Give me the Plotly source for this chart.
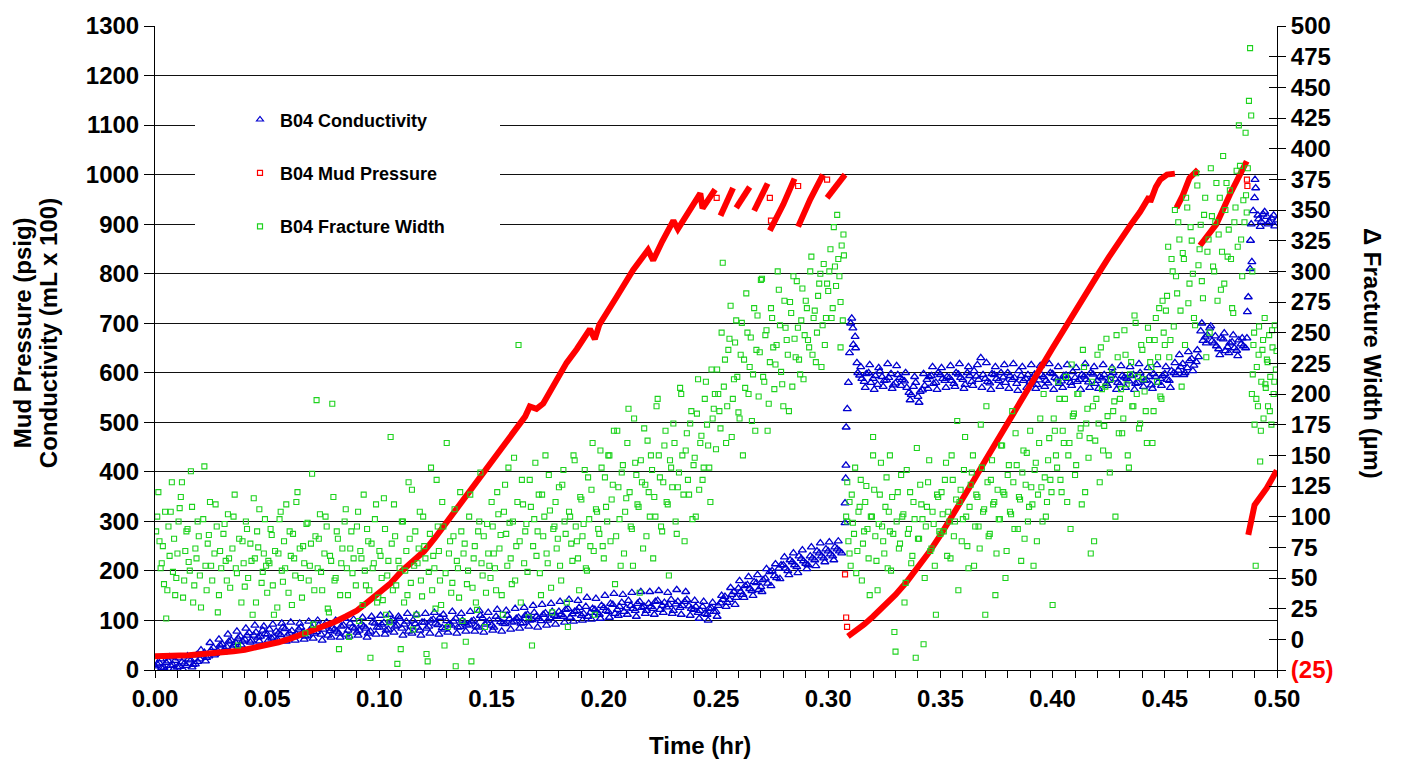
import plotly.graph_objects as go

# ---------------- DATA ----------------
# B04 Mud Pressure (psig) - left axis; None marks a break between sawtooth segments
mud_t = [0.000, 0.005, 0.010, 0.015, 0.020, 0.025, 0.030, 0.035, 0.040, 0.045,
         0.050, 0.055, 0.060, 0.065, 0.070, 0.075, 0.080, 0.085, 0.090, 0.095,
         0.100, 0.105, 0.110, 0.115, 0.120, 0.125, 0.130, 0.135, 0.140, 0.145,
         0.150, 0.155, 0.160, 0.165, 0.167, 0.170, 0.173, 0.176, 0.179, 0.1834,
         0.188, 0.1938, 0.196, 0.198, 0.2057, 0.213, 0.2197, 0.222, 0.226, 0.231,
         0.233, 0.238, 0.243, 0.244, 0.2496, None, 0.252, 0.2576, None, 0.259,
         0.265, None, 0.267, 0.273, None, 0.274, 0.280, 0.285, None, 0.2866,
         0.292, 0.2977, None, 0.2995, 0.303, 0.3075, None,
         0.3088, 0.312, 0.316, 0.320, 0.325, 0.330, 0.335, 0.340, 0.345, 0.350,
         0.355, 0.360, 0.365, 0.370, 0.375, 0.380, 0.385, 0.390, 0.395, 0.400,
         0.405, 0.410, 0.415, 0.420, 0.425, 0.430, 0.435, 0.439, 0.441, 0.443,
         0.4435, 0.446, 0.448, 0.451, 0.4545, None, 0.4552, 0.458, 0.461, 0.4648,
         None, 0.4657, 0.473, 0.479, 0.4835, 0.4865, None, 0.4872, 0.4887, 0.490,
         0.4954, 0.4999]
mud_p = [28, 28, 29, 30, 32, 33, 35, 38, 41, 45,
         50, 56, 63, 71, 80, 88, 97, 108, 120, 138,
         158, 175, 200, 220, 240, 268, 298, 328, 358, 388,
         418, 448, 478, 512, 532, 527, 538, 562, 585, 620,
         648, 688, 668, 697, 753, 807, 848, 827, 865, 907,
         890, 925, 962, 932, 970, None, 917, 973, None, 933,
         975, None, 927, 982, None, 887, 940, 992, None, 895,
         950, 1000, None, 953, 975, 1000, None,
         68, 78, 92, 108, 128, 152, 178, 206, 238, 272,
         308, 346, 384, 423, 462, 500, 538, 575, 612, 650,
         688, 724, 760, 797, 833, 868, 900, 925, 940, 955,
         945, 975, 990, 1000, 1002, None, 933, 958, 993, 1010,
         None, 857, 900, 960, 1000, 1027, None, 273, 313, 333,
         367, 403]
mud_out_t = [0.2503, 0.274, 0.2745, 0.2866, 0.2995, 0.3075, 0.308, 0.3084, 0.4866, 0.4868]
mud_out_p = [953, 953, 907, 977, 990, 193, 106, 87, 990, 977]

# B04 Conductivity (mL x 100) - left axis, first set of samples
cond_t = [0.000, 0.002, 0.004, 0.006, 0.008, 0.010, 0.012, 0.014, 0.016, 0.018,
          0.020, 0.022, 0.024, 0.026, 0.028, 0.030, 0.032, 0.034, 0.036, 0.038,
          0.040, 0.042, 0.044, 0.046, 0.048, 0.050, 0.052, 0.054, 0.056, 0.058,
          0.060, 0.062, 0.064, 0.066, 0.068, 0.070, 0.072, 0.074, 0.076, 0.078,
          0.080, 0.082, 0.084, 0.086, 0.088, 0.090, 0.092, 0.094, 0.096, 0.098,
          0.100, 0.102, 0.104, 0.106, 0.108, 0.110, 0.112, 0.114, 0.116, 0.118,
          0.120, 0.122, 0.124, 0.126, 0.128, 0.130, 0.132, 0.134, 0.136, 0.138,
          0.140, 0.142, 0.144, 0.146, 0.148, 0.150, 0.152, 0.154, 0.156, 0.158,
          0.160, 0.162, 0.164, 0.166, 0.168, 0.170, 0.172, 0.174, 0.176, 0.178,
          0.180, 0.182, 0.184, 0.186, 0.188, 0.190, 0.192, 0.194, 0.196, 0.198,
          0.200, 0.202, 0.204, 0.206, 0.208, 0.210, 0.212, 0.214, 0.216, 0.218,
          0.220, 0.222, 0.224, 0.226, 0.228, 0.230, 0.232, 0.234, 0.236, 0.238,
          0.240, 0.242, 0.244, 0.246, 0.248, 0.250, 0.252, 0.254, 0.256, 0.258,
          0.260, 0.262, 0.264, 0.266, 0.268, 0.270, 0.272, 0.274, 0.276, 0.278,
          0.280, 0.282, 0.284, 0.286, 0.288, 0.290, 0.292, 0.294, 0.296, 0.298,
          0.300, 0.302, 0.304, 0.306,
          0.3075, 0.3075, 0.3078, 0.3079, 0.3080, 0.3085, 0.3090, 0.3095, 0.3100, 0.3105,
          0.3110, 0.3112, 0.3120, 0.3122, 0.3128, 0.3132,
          0.314, 0.316, 0.318, 0.320, 0.322, 0.324, 0.326, 0.328, 0.330, 0.332,
          0.334, 0.336, 0.338, 0.340, 0.342, 0.344, 0.346, 0.348, 0.350, 0.352,
          0.354, 0.356, 0.358, 0.360, 0.362, 0.364, 0.366, 0.368, 0.370, 0.372,
          0.374, 0.376, 0.378, 0.380, 0.382, 0.384, 0.386, 0.388, 0.390, 0.392,
          0.394, 0.396, 0.398, 0.400, 0.402, 0.404, 0.406, 0.408, 0.410, 0.412,
          0.414, 0.416, 0.418, 0.420, 0.422, 0.424, 0.426, 0.428, 0.430, 0.432,
          0.434, 0.436, 0.438, 0.440, 0.442, 0.444, 0.446, 0.448, 0.450, 0.452, 0.454,
          0.456, 0.458, 0.460, 0.462, 0.464,
          0.466, 0.467, 0.468, 0.470,
          0.472, 0.474, 0.476, 0.478, 0.480, 0.482, 0.484, 0.486,
          0.4866, 0.4868, 0.4872, 0.4880, 0.4882, 0.4885, 0.4888, 0.4894, 0.4900, 0.4902, 0.4905,
          0.4915, 0.4925, 0.4930, 0.4945, 0.4955, 0.4960, 0.4975, 0.4990, 0.5000]
cond_v = [8, 14, 5, 18, 10, 6, 16, 9, 20, 12,
          22, 35, 28, 45, 38, 52, 47, 60, 55, 68,
          62, 75, 70, 66, 80, 72, 64, 78, 71, 83,
          74, 68, 82, 76, 70, 85, 77, 72, 88, 79,
          82, 74, 90, 80, 86, 76, 92, 84, 78, 94,
          86, 95, 82, 100, 90, 84, 98, 88, 93, 80,
          96, 88, 102, 91, 85, 99, 90, 104, 87, 95,
          92, 100, 86, 105, 95, 90, 108, 97, 93, 103,
          98, 106, 95, 112, 101, 108, 99, 115, 105, 110,
          118, 108, 124, 113, 120, 110, 128, 116, 122, 112,
          126, 118, 132, 122, 136, 125, 130, 120, 138, 128,
          134, 124, 140, 130, 127, 142, 133, 126, 138, 129,
          122, 116, 128, 112, 125, 118, 135, 148, 142, 158,
          165, 152, 172, 160, 176, 168, 185, 198, 190, 205,
          212, 200, 218, 208, 225, 215, 230, 222, 236, 226,
          240, 230, 244, 236,
          297, 337, 387, 413, 490, 527, 580, 640, 700, 710,
          690, 657, 673, 650, 620, 600,
          595, 582, 600, 588, 576, 592, 585, 598, 579, 590,
          583, 560, 572, 552, 565, 586, 594, 580, 596, 584,
          590, 578, 597, 586, 600, 582, 593, 630, 588, 579,
          596, 584, 591, 600, 586, 578, 594, 588, 582, 597,
          585, 592, 579, 598, 587, 583, 595, 580, 590, 586,
          593, 581, 597, 584, 589, 578, 594, 587, 576, 591,
          583, 596, 580, 590, 585, 575, 592, 588, 598, 584, 600,
          605, 618, 610, 628, 622,
          684, 665, 672, 690,
          660, 648, 668, 652, 662, 645, 658, 650,
          670, 723, 753, 810, 867, 900, 824, 927, 953, 990, 973,
          918, 895, 905, 925, 915, 900, 912, 896, 908]

# B04 Conductivity - second set of samples
cond2_t = [0.001, 0.003, 0.005, 0.007, 0.009, 0.011, 0.013, 0.015, 0.017, 0.019,
           0.021, 0.023, 0.025, 0.027, 0.029, 0.031, 0.033, 0.035, 0.037, 0.039,
           0.041, 0.043, 0.045, 0.047, 0.049, 0.051, 0.053, 0.055, 0.057, 0.059,
           0.061, 0.063, 0.065, 0.067, 0.069, 0.071, 0.073, 0.075, 0.077, 0.079,
           0.081, 0.083, 0.085, 0.087, 0.089, 0.091, 0.093, 0.095, 0.097, 0.099,
           0.101, 0.103, 0.105, 0.107, 0.109, 0.111, 0.113, 0.115, 0.117, 0.119,
           0.121, 0.123, 0.125, 0.127, 0.129, 0.131, 0.133, 0.135, 0.137, 0.139,
           0.141, 0.143, 0.145, 0.147, 0.149, 0.151, 0.153, 0.155, 0.157, 0.159,
           0.161, 0.163, 0.165, 0.167, 0.169, 0.171, 0.173, 0.175, 0.177, 0.179,
           0.181, 0.183, 0.185, 0.187, 0.189, 0.191, 0.193, 0.195, 0.197, 0.199,
           0.201, 0.203, 0.205, 0.207, 0.209, 0.211, 0.213, 0.215, 0.217, 0.219,
           0.221, 0.223, 0.225, 0.227, 0.229, 0.231, 0.233, 0.235, 0.237, 0.239,
           0.241, 0.243, 0.245, 0.247, 0.249, 0.251, 0.253, 0.255, 0.257, 0.259,
           0.261, 0.263, 0.265, 0.267, 0.269, 0.271, 0.273, 0.275, 0.277, 0.279,
           0.281, 0.283, 0.285, 0.287, 0.289, 0.291, 0.293, 0.295, 0.297, 0.299,
           0.301, 0.303, 0.305,
           0.315, 0.317, 0.319, 0.321, 0.323, 0.325, 0.327, 0.329, 0.331, 0.333,
           0.335, 0.337, 0.339, 0.341, 0.343, 0.345, 0.347, 0.349, 0.351, 0.353,
           0.355, 0.357, 0.359, 0.361, 0.363, 0.365, 0.367, 0.369, 0.371, 0.373,
           0.375, 0.377, 0.379, 0.381, 0.383, 0.385, 0.387, 0.389, 0.391, 0.393,
           0.395, 0.397, 0.399, 0.401, 0.403, 0.405, 0.407, 0.409, 0.411, 0.413,
           0.415, 0.417, 0.419, 0.421, 0.423, 0.425, 0.427, 0.429, 0.431, 0.433,
           0.435, 0.437, 0.439, 0.441, 0.443, 0.445, 0.447, 0.449, 0.451, 0.453, 0.455,
           0.457, 0.459, 0.461, 0.463, 0.465,
           0.469, 0.471,
           0.473, 0.475, 0.477, 0.479, 0.481, 0.483, 0.485,
           0.4918, 0.4938, 0.4965, 0.4985]
cond2_v = [12, 4, 15, 9, 19, 7, 13, 22, 11, 17,
           30, 25, 40, 33, 50, 42, 58, 50, 64, 58,
           70, 60, 76, 68, 73, 82, 66, 74, 86, 70,
           79, 72, 86, 68, 80, 74, 90, 82, 70, 84,
           78, 88, 72, 94, 84, 80, 88, 74, 96, 86,
           92, 80, 98, 88, 104, 92, 78, 100, 86, 96,
           84, 100, 94, 106, 82, 92, 98, 86, 100, 90,
           98, 88, 110, 92, 100, 86, 102, 94, 110, 96,
           104, 94, 110, 100, 116, 104, 112, 100, 118, 108,
           112, 122, 106, 118, 126, 114, 108, 124, 116, 130,
           120, 134, 114, 128, 118, 140, 124, 134, 126, 120,
           128, 138, 122, 136, 132, 120, 138, 130, 142, 124,
           128, 120, 114, 124, 118, 130, 142, 136, 152, 146,
           158, 170, 164, 178, 162, 182, 175, 200, 186, 212,
           205, 222, 212, 230, 220, 212, 226, 240, 230, 244,
           234, 248, 240,
           588, 598, 580, 594, 603, 584, 590, 575, 596, 586,
           570, 556, 580, 562, 574, 592, 578, 600, 588, 592,
           584, 600, 590, 576, 594, 604, 586, 596, 582, 598,
           588, 600, 580, 594, 590, 604, 584, 596, 590, 576,
           596, 584, 600, 590, 578, 594, 588, 602, 582, 596,
           586, 600, 578, 592, 596, 584, 600, 580, 594, 588,
           594, 578, 600, 584, 592, 598, 580, 594, 586, 604, 596,
           612, 600, 624, 615, 632,
           676, 664,
           654, 670, 644, 660, 650, 666, 654,
           910, 920, 905, 918]

# B04 Conductivity - third set of samples (the outer edges of the noisy band)
cond3_t = [0.0005, 0.0025, 0.0045, 0.0065, 0.0085, 0.0105, 0.0125, 0.0145, 0.0165, 0.0185,
           0.0205, 0.0225, 0.0245, 0.0265, 0.0285, 0.0305, 0.0325, 0.0345, 0.0365, 0.0385,
           0.0405, 0.0425, 0.0445, 0.0465, 0.0485, 0.0505, 0.0525, 0.0545, 0.0565, 0.0585,
           0.0605, 0.0625, 0.0645, 0.0665, 0.0685, 0.0705, 0.0725, 0.0745, 0.0765, 0.0785,
           0.0805, 0.0825, 0.0845, 0.0865, 0.0885, 0.0905, 0.0925, 0.0945, 0.0965, 0.0985,
           0.1005, 0.1025, 0.1045, 0.1065, 0.1085, 0.1105, 0.1125, 0.1145, 0.1165, 0.1185,
           0.1205, 0.1225, 0.1245, 0.1265, 0.1285, 0.1305, 0.1325, 0.1345, 0.1365, 0.1385,
           0.1405, 0.1425, 0.1445, 0.1465, 0.1485, 0.1505, 0.1525, 0.1545, 0.1565, 0.1585,
           0.1605, 0.1625, 0.1645, 0.1665, 0.1685, 0.1705, 0.1725, 0.1745, 0.1765, 0.1785,
           0.1805, 0.1825, 0.1845, 0.1865, 0.1885, 0.1905, 0.1925, 0.1945, 0.1965, 0.1985,
           0.2005, 0.2025, 0.2045, 0.2065, 0.2085, 0.2105, 0.2125, 0.2145, 0.2165, 0.2185,
           0.2205, 0.2225, 0.2245, 0.2265, 0.2285, 0.2305, 0.2325, 0.2345, 0.2365, 0.2385,
           0.2405, 0.2425, 0.2445, 0.2465, 0.2485, 0.2505, 0.2525, 0.2545, 0.2565, 0.2585,
           0.2605, 0.2625, 0.2645, 0.2665, 0.2685, 0.2705, 0.2725, 0.2745, 0.2765, 0.2785,
           0.2805, 0.2825, 0.2845, 0.2865, 0.2885, 0.2905, 0.2925, 0.2945, 0.2965, 0.2985,
           0.3005, 0.3025, 0.3045,
           0.3145, 0.3165, 0.3185, 0.3205, 0.3225, 0.3245, 0.3265, 0.3285, 0.3305, 0.3325,
           0.3345, 0.3365, 0.3385, 0.3405, 0.3425, 0.3445, 0.3465, 0.3485, 0.3505, 0.3525,
           0.3545, 0.3565, 0.3585, 0.3605, 0.3625, 0.3645, 0.3665, 0.3685, 0.3705, 0.3725,
           0.3745, 0.3765, 0.3785, 0.3805, 0.3825, 0.3845, 0.3865, 0.3885, 0.3905, 0.3925,
           0.3945, 0.3965, 0.3985, 0.4005, 0.4025, 0.4045, 0.4065, 0.4085, 0.4105, 0.4125,
           0.4145, 0.4165, 0.4185, 0.4205, 0.4225, 0.4245, 0.4265, 0.4285, 0.4305, 0.4325,
           0.4345, 0.4365, 0.4385, 0.4405, 0.4425, 0.4445, 0.4465, 0.4485, 0.4505, 0.4525, 0.4545,
           0.4565, 0.4585, 0.4605, 0.4625, 0.4645,
           0.4665, 0.4685, 0.4705,
           0.4725, 0.4745, 0.4765, 0.4785, 0.4805, 0.4825, 0.4845]
cond3_v = [2, 22, 0, 26, 3, 24, 1, 28, 6, 30,
           40, 18, 55, 30, 62, 36, 72, 44, 78, 50,
           84, 56, 90, 58, 88, 60, 92, 62, 94, 58,
           96, 60, 94, 62, 98, 64, 100, 60, 96, 66,
           100, 66, 104, 68, 102, 70, 106, 66, 108, 72,
           110, 72, 112, 76, 108, 70, 114, 74, 112, 70,
           114, 74, 116, 72, 112, 76, 118, 74, 114, 78,
           118, 78, 120, 76, 116, 80, 122, 78, 120, 82,
           124, 84, 126, 88, 130, 86, 132, 90, 134, 92,
           138, 96, 142, 98, 140, 100, 146, 102, 144, 104,
           150, 106, 154, 110, 152, 112, 156, 108, 158, 114,
           158, 112, 160, 116, 156, 114, 162, 112, 158, 110,
           140, 104, 138, 100, 136, 108, 150, 128, 166, 132,
           180, 146, 188, 150, 192, 158, 204, 170, 214, 184,
           228, 192, 236, 196, 242, 204, 248, 210, 256, 218,
           258, 222, 260,
           612, 570, 616, 566, 610, 572, 618, 568, 614, 574,
           600, 545, 592, 540, 598, 568, 612, 566, 610, 570,
           614, 572, 618, 568, 612, 574, 616, 570, 620, 566,
           612, 572, 616, 568, 618, 564, 612, 570, 616, 568,
           614, 572, 618, 566, 612, 570, 616, 574, 610, 566,
           618, 570, 612, 568, 616, 574, 610, 566, 614, 570,
           612, 566, 618, 572, 610, 568, 616, 574, 612, 570, 620,
           636, 596, 642, 604, 646,
           700, 660, 694,
           674, 636, 680, 640, 676, 634, 670]

# B04 Fracture Width (delta, micrometres) - right axis, first set of samples
frac_t = [0.001, 0.002, 0.003, 0.004, 0.005, 0.006, 0.007, 0.008, 0.009, 0.010,
          0.011, 0.012, 0.013, 0.014, 0.015, 0.016, 0.017, 0.018, 0.019, 0.020,
          0.022, 0.023, 0.024, 0.025, 0.027, 0.028, 0.029, 0.031, 0.032, 0.033,
          0.035, 0.036, 0.037, 0.039, 0.040, 0.041, 0.043, 0.044, 0.045, 0.046,
          0.048, 0.049, 0.050,
          0.051, 0.052, 0.053, 0.055, 0.056, 0.057, 0.058, 0.060, 0.061, 0.062,
          0.063, 0.065, 0.066, 0.067, 0.068, 0.069, 0.070, 0.071, 0.072, 0.073,
          0.074, 0.076, 0.077, 0.078, 0.079, 0.080, 0.081, 0.082, 0.083, 0.085,
          0.086, 0.087, 0.088, 0.090, 0.091, 0.092, 0.093, 0.094, 0.095, 0.096,
          0.097, 0.098, 0.099, 0.100,
          0.101, 0.102, 0.103, 0.104, 0.105, 0.106, 0.107, 0.108, 0.109, 0.110,
          0.111, 0.112, 0.113, 0.114, 0.115, 0.116, 0.117, 0.118, 0.119, 0.120,
          0.121, 0.122, 0.123, 0.124, 0.125, 0.126, 0.127, 0.128, 0.129, 0.130,
          0.131, 0.132, 0.133, 0.134, 0.135, 0.136, 0.137, 0.138, 0.139, 0.140,
          0.141, 0.142, 0.143, 0.144, 0.145, 0.146, 0.147, 0.148, 0.149, 0.150,
          0.151, 0.152, 0.153, 0.154, 0.155, 0.156, 0.157, 0.158, 0.159, 0.160,
          0.161, 0.162, 0.163, 0.164, 0.165, 0.166, 0.167, 0.168, 0.169, 0.170,
          0.171, 0.172, 0.173, 0.174, 0.175, 0.176, 0.177, 0.178, 0.179, 0.180,
          0.181, 0.182, 0.183, 0.184, 0.185, 0.186, 0.187, 0.188, 0.189, 0.190,
          0.191, 0.192, 0.193, 0.194, 0.195, 0.196, 0.197, 0.198, 0.199, 0.200,
          0.201, 0.202, 0.203, 0.204, 0.205, 0.206, 0.207, 0.208, 0.209, 0.210,
          0.211, 0.212, 0.213, 0.214, 0.215, 0.216, 0.217, 0.218, 0.219, 0.220,
          0.221, 0.222, 0.223, 0.224, 0.225, 0.226, 0.227, 0.228, 0.229, 0.230,
          0.231, 0.232, 0.233, 0.234, 0.235, 0.236, 0.237, 0.238, 0.239, 0.240,
          0.241, 0.242, 0.243, 0.244, 0.245, 0.246, 0.247, 0.248, 0.249, 0.250,
          0.251, 0.252, 0.253, 0.254, 0.255, 0.256, 0.257, 0.258, 0.259, 0.260,
          0.261, 0.262, 0.263, 0.264, 0.265, 0.266, 0.267, 0.268, 0.269, 0.270,
          0.271, 0.272, 0.273, 0.274, 0.275, 0.276, 0.277, 0.278, 0.279, 0.280,
          0.281, 0.282, 0.283, 0.284, 0.285, 0.286, 0.287, 0.288, 0.289, 0.290,
          0.291, 0.292, 0.293, 0.294, 0.295, 0.296, 0.297, 0.298, 0.299, 0.300,
          0.301, 0.302, 0.303, 0.304, 0.305, 0.306, 0.307, 0.3065, 0.3055,
          0.308, 0.3085, 0.309, 0.3095, 0.310, 0.311, 0.312, 0.313, 0.314, 0.315,
          0.316, 0.317, 0.318, 0.319, 0.320, 0.321, 0.322, 0.323, 0.324, 0.325,
          0.326, 0.327, 0.328, 0.329, 0.330, 0.331, 0.332, 0.333, 0.334, 0.335,
          0.336, 0.337, 0.338, 0.339, 0.340, 0.341, 0.342, 0.343, 0.344, 0.345,
          0.346, 0.347, 0.348, 0.349, 0.350, 0.3200, 0.3275,
          0.351, 0.352, 0.353, 0.354, 0.355, 0.356, 0.357, 0.358, 0.359, 0.360,
          0.361, 0.362, 0.363, 0.364, 0.365, 0.366, 0.367, 0.368, 0.369, 0.370,
          0.371, 0.372, 0.373, 0.374, 0.375, 0.376, 0.377, 0.378, 0.379, 0.380,
          0.381, 0.382, 0.383, 0.384, 0.385, 0.386, 0.387, 0.388, 0.389, 0.390,
          0.391, 0.392, 0.393, 0.394, 0.395, 0.396, 0.397, 0.398, 0.399, 0.400,
          0.401, 0.402, 0.403, 0.404, 0.405, 0.406, 0.407, 0.408, 0.409, 0.410,
          0.411, 0.412, 0.413, 0.414, 0.415, 0.416, 0.417, 0.418, 0.419, 0.420,
          0.421, 0.422, 0.423, 0.424, 0.425, 0.426, 0.427, 0.428, 0.429, 0.430,
          0.431, 0.432, 0.433, 0.434, 0.435, 0.436, 0.437, 0.438, 0.439, 0.440,
          0.441, 0.442, 0.443, 0.444, 0.445, 0.446, 0.447, 0.448, 0.449, 0.450,
          0.451, 0.452, 0.453, 0.454, 0.455, 0.456, 0.457, 0.458, 0.459, 0.460,
          0.461, 0.462, 0.463, 0.464, 0.465, 0.466, 0.467, 0.468, 0.469, 0.470,
          0.471, 0.472, 0.473, 0.474, 0.475, 0.476, 0.477, 0.478, 0.479, 0.480,
          0.481, 0.482, 0.483, 0.484, 0.485, 0.486, 0.487, 0.4875, 0.488, 0.4885,
          0.489, 0.4865,
          0.4888, 0.4895, 0.4900, 0.4905, 0.4910, 0.4915, 0.4920, 0.4925, 0.4930, 0.4935,
          0.4940, 0.4945, 0.4950, 0.4955, 0.4960, 0.4965, 0.4970, 0.4975, 0.4980, 0.4985,
          0.4990, 0.4995]
frac_w = [100, 80, 62, 45, 17, 92, 104, 55, 36, 70,
          107, 128, 48, 88, 63, 137, 30, 74, 96, 52,
          141, 40, 85, 60, 110, 22, 72, 94, 48, 66,
          100, 58, -5, 80, 43, 90, 64, 115, 30, 75,
          55, 98, 38,
          62, 85, 20, 70, 104, 47, 58, 88, 28, 66,
          112, 50, 76, 5, 95, 60, 135, 40, 195, 82,
          55, 100, 25, 68, 192, 48, 88, -8, 62, 106,
          36, 74, 54, 92, 15, 66, 118, 44, 80, -15,
          58, 98, 30, 72,
          50, 115, 20, 64, 165, 40, 84, -20, 58, 96,
          30, 72, 128, 46, 8, 88, 62, 104, 35, 76,
          -12, 55, 140, 68, 25, 92, 48, 112, -5, 160,
          70, 38, 84, -22, 58, 120, 15, 78, 45, 100,
          -18, 66, 30, 88, 136, 52, 10, 94, 60, 112,
          70, 40, 102, 85, 20, 126, 60, 95, 45, 148,
          76, 240, 30, 110, 88, 55, 130, -5, 98, 68,
          118, 36, 84, 150, 62, 105, 22, 92, 74, 124,
          48, 138, 86, 10, 100, 64, 146, 80, 40, 114,
          94, 58, 132, 76, 160, 20, 104, 86, 140, 66,
          108, 150, 80, 126, 45, 170, 98, 136, 70, 115,
          188, 92, 60, 144, 110, 38, 128, 172, 84, 120,
          150, 66, 100, 196, 132, 88, 158, 112, 52, 140,
          176, 96, 124, 205, 150, 80, 168, 118, 186, 142,
          100, 212, 160, 130, 196, 175, 140, 220, 188, 155,
          200, 172, 307, 228, 190, 245, 165, 212, 260, 185,
          232, 150, 205, 250, 222, 178, 270, 236, 198, 293,
          214, 248, 170, 226, 262, 204, 240, 285, 218, 190,
          254, 232, 275, 206, 245, 292, 228, 260, 212, 276,
          244, 300, 232, 268, 250, 290, 222, 306, 262, 284,
          318, 270, 304, 346, 296, 321, 313, 260, 238,
          100, 128, 80, 112, 60, 95, 140, 72, 108, 48,
          88, 125, 66, 100, 150, 84, 40, 118, 92, 70,
          132, 104, 56, 86, -10, 120, 78, 100, 30, 138,
          90, 62, 112, -15, 82, 126, 98, 50, 108, 146,
          74, 94, 20, 116, 86, 165, 150,
          102, 130, 68, 96, 150, 84, 114, 40, 122, 98,
          165, 76, 108, 136, 60, 118, 92, 175, 104, 20,
          128, 86, 146, 112, 70, 98, 158, 120, 50, 134,
          104, 186, 90, 142, 116, 64, 154, 126, 96, 170,
          110, 138, 80, 160, 124, 200, 100, 146, 130, 28,
          170, 140, 196, 120, 160, 214, 150, 90, 182, 134,
          200, 166, 110, 222, 176, 148, 70, 190, 162, 232,
          128, 204, 174, 245, 150, 212, 186, 100, 230, 196,
          168, 252, 208, 140, 226, 190, 258, 214, 176, 236,
          202, 160, 244, 222, 186, 262, 230, 198, 276, 240,
          280, 230, 310, 255, 296, 340, 268, 315, 240, 352,
          290, 325, 262, 380, 305, 338, 278, 360, 316, 250,
          345, 300, 372, 330, 285, 394, 350, 312, 366, 270,
          340, 382, 419, 326, 358, 413, 384, 439, 482, 427,
          300, 348,
          200, 240, 175, 60, 222, 190, 255, 145, 210, 236,
          180, 262, 205, 228, 190, 248, 214, 175, 238, 200,
          256, 220]

# B04 Fracture Width - second set of samples
frac2_t = [0.0005, 0.0015, 0.0025, 0.0035, 0.0045, 0.0055, 0.0065, 0.0075, 0.0085, 0.0095,
           0.0105, 0.0115, 0.0125, 0.0135, 0.0145, 0.0155, 0.0165, 0.0175, 0.0185, 0.0195,
           0.0205, 0.0215, 0.0225, 0.0235, 0.0245, 0.0255, 0.0265, 0.0275, 0.0285, 0.0295,
           0.0305, 0.0315, 0.0325, 0.0335, 0.0345, 0.0355, 0.0365, 0.0375, 0.0385, 0.0395,
           0.0405, 0.0415, 0.0425, 0.0435, 0.0445, 0.0455, 0.0465, 0.0475, 0.0485, 0.0495,
           0.0505, 0.0515, 0.0525, 0.0535, 0.0545, 0.0555, 0.0565, 0.0575, 0.0585, 0.0595,
           0.0605, 0.0615, 0.0625, 0.0635, 0.0645, 0.0655, 0.0665, 0.0675, 0.0685, 0.0695,
           0.0705, 0.0715, 0.0725, 0.0735, 0.0745, 0.0755, 0.0765, 0.0775, 0.0785, 0.0795,
           0.0805, 0.0815, 0.0825, 0.0835, 0.0845, 0.0855, 0.0865, 0.0875, 0.0885, 0.0895,
           0.0905, 0.0915, 0.0925, 0.0935, 0.0945, 0.0955, 0.0965, 0.0975, 0.0985, 0.0995,
           0.1005, 0.1015, 0.1025, 0.1035, 0.1045, 0.1055, 0.1065, 0.1075, 0.1085, 0.1095,
           0.1105, 0.1115, 0.1125, 0.1135, 0.1145, 0.1155, 0.1165, 0.1175, 0.1185, 0.1195,
           0.1205, 0.1215, 0.1225, 0.1235, 0.1245, 0.1255, 0.1265, 0.1275, 0.1285, 0.1295,
           0.1305, 0.1315, 0.1325, 0.1335, 0.1345, 0.1355, 0.1365, 0.1375, 0.1385, 0.1395,
           0.1405, 0.1415, 0.1425, 0.1435, 0.1445, 0.1455, 0.1465, 0.1475, 0.1485, 0.1495,
           0.1505, 0.1515, 0.1525, 0.1535, 0.1545, 0.1555, 0.1565, 0.1575, 0.1585, 0.1595,
           0.1605, 0.1615, 0.1625, 0.1635, 0.1645, 0.1655, 0.1665, 0.1675, 0.1685, 0.1695,
           0.1705, 0.1715, 0.1725, 0.1735, 0.1745, 0.1755, 0.1765, 0.1775, 0.1785, 0.1795,
           0.1805, 0.1815, 0.1825, 0.1835, 0.1845, 0.1855, 0.1865, 0.1875, 0.1885, 0.1895,
           0.1905, 0.1915, 0.1925, 0.1935, 0.1945, 0.1955, 0.1965, 0.1975, 0.1985, 0.1995,
           0.2005, 0.2015, 0.2025, 0.2035, 0.2045, 0.2055, 0.2065, 0.2075, 0.2085, 0.2095,
           0.2105, 0.2115, 0.2125, 0.2135, 0.2145, 0.2155, 0.2165, 0.2175, 0.2185, 0.2195,
           0.2205, 0.2215, 0.2225, 0.2235, 0.2245, 0.2255, 0.2265, 0.2275, 0.2285, 0.2295,
           0.2305, 0.2315, 0.2325, 0.2335, 0.2345, 0.2355, 0.2365, 0.2375, 0.2385, 0.2395,
           0.2405, 0.2415, 0.2425, 0.2435, 0.2445, 0.2455, 0.2465, 0.2475, 0.2485, 0.2495,
           0.2505, 0.2515, 0.2525, 0.2535, 0.2545, 0.2555, 0.2565, 0.2575, 0.2585, 0.2595,
           0.2605, 0.2615, 0.2625, 0.2635, 0.2645, 0.2655, 0.2665, 0.2675, 0.2685, 0.2695,
           0.2705, 0.2715, 0.2725, 0.2735, 0.2745, 0.2755, 0.2765, 0.2775, 0.2785, 0.2795,
           0.2805, 0.2815, 0.2825, 0.2835, 0.2845, 0.2855, 0.2865, 0.2875, 0.2885, 0.2895,
           0.2905, 0.2915, 0.2925, 0.2935, 0.2945, 0.2955, 0.2965, 0.2975, 0.2985, 0.2995,
           0.3005, 0.3015, 0.3025, 0.3035, 0.3045, 0.3055, 0.3068,
           0.3085, 0.3095, 0.3105, 0.3115, 0.3125, 0.3135, 0.3145, 0.3155, 0.3165, 0.3175,
           0.3185, 0.3195, 0.3205, 0.3215, 0.3225, 0.3235, 0.3245, 0.3255, 0.3265, 0.3275,
           0.3285, 0.3295, 0.3305, 0.3315, 0.3325, 0.3335, 0.3345, 0.3355, 0.3365, 0.3375,
           0.3385, 0.3395, 0.3405, 0.3415, 0.3425, 0.3435, 0.3445, 0.3455, 0.3465, 0.3475,
           0.3485, 0.3495,
           0.3505, 0.3515, 0.3525, 0.3535, 0.3545, 0.3555, 0.3565, 0.3575, 0.3585, 0.3595,
           0.3605, 0.3615, 0.3625, 0.3635, 0.3645, 0.3655, 0.3665, 0.3675, 0.3685, 0.3695,
           0.3705, 0.3715, 0.3725, 0.3735, 0.3745, 0.3755, 0.3765, 0.3775, 0.3785, 0.3795,
           0.3805, 0.3815, 0.3825, 0.3835, 0.3845, 0.3855, 0.3865, 0.3875, 0.3885, 0.3895,
           0.3905, 0.3915, 0.3925, 0.3935, 0.3945, 0.3955, 0.3965, 0.3975, 0.3985, 0.3995,
           0.4005, 0.4015, 0.4025, 0.4035, 0.4045, 0.4055, 0.4065, 0.4075, 0.4085, 0.4095,
           0.4105, 0.4115, 0.4125, 0.4135, 0.4145, 0.4155, 0.4165, 0.4175, 0.4185, 0.4195,
           0.4205, 0.4215, 0.4225, 0.4235, 0.4245, 0.4255, 0.4265, 0.4275, 0.4285, 0.4295,
           0.4305, 0.4315, 0.4325, 0.4335, 0.4345, 0.4355, 0.4365, 0.4375, 0.4385, 0.4395,
           0.4405, 0.4415, 0.4425, 0.4435, 0.4445, 0.4455, 0.4465, 0.4475, 0.4485, 0.4495,
           0.4505, 0.4515, 0.4525, 0.4535, 0.4545, 0.4555, 0.4565, 0.4575, 0.4585, 0.4595,
           0.4605, 0.4615, 0.4625, 0.4635, 0.4645, 0.4655, 0.4665, 0.4675, 0.4685, 0.4695,
           0.4705, 0.4715, 0.4725, 0.4735, 0.4745, 0.4755, 0.4765, 0.4775, 0.4785, 0.4795,
           0.4805, 0.4815, 0.4825, 0.4835, 0.4845, 0.4855, 0.4862,
           0.4892, 0.4898, 0.4908, 0.4918, 0.4928, 0.4938, 0.4948, 0.4958, 0.4968, 0.4978,
           0.4988, 0.4998]
frac2_w = [88, 120, 58, 76, 104, 40, 68, 128, 82, 50,
           96, 116, 34, 72, 90, 56, 108, 44, 66, 84,
           26, 98, 60, 78, 112, 48, 70, 92, 36, 58,
           86, 64, 102, 42, 74, 118, 54, 82, 30, 62,
           96, 50, 78, 20, 66, 88, 106, 46, 70, 60,
           64, 90, 44, 72, 26, 98, 56, 80, 110, 38,
           68, 86, 52, 120, 74, 34, 62, 94, 48, 78,
           12, 84, 58, 102, 40, 70, 92, 22, 64, 116,
           50, 82, 36, 74, 96, 58, 2, 88, 66, 44,
           104, 72, 28, 56, 90, 40, 78, 62, 110, 34,
           68, 32, 90, 52, 14, 78, 110, 44, 64, -8,
           96, 56, 36, 82, 122, 60, 20, 74, 48, 100,
           66, -18, 86, 40, 58, 130, 72, 28, 92, 54,
           10, 80, 46, 106, 64, 34, 88, 70, -2, 56,
           118, 42, 76, 24, 96, 62, 84, 38, 70, 50,
           92, 58, 120, 74, 36, 104, 86, 140, 66, 96,
           48, 112, 80, 130, 62, 94, 18, 108, 76, 144,
           88, 54, 118, 100, 70, 134, 42, 90, 112, 82,
           60, 126, 96, 30, 104, 78, 150, 92, 66, 116,
           84, 138, 56, 98, 122, 72, 106, 90, 154, 76,
           132, 96, 150, 114, 170, 84, 124, 60, 142, 104,
           160, 120, 90, 180, 134, 108, 146, 74, 126, 162,
           100, 138, 116, 190, 150, 92, 128, 170, 110, 146,
           124, 160, 86, 136, 200, 118, 154, 130, 176, 98,
           148, 184, 122, 166, 140, 210, 158, 112, 180, 200,
           220, 186, 250, 206, 160, 236, 272, 196, 242, 214,
           180, 258, 228, 282, 200, 246, 216, 170, 264, 234,
           294, 210, 252, 192, 270, 238, 224, 300, 256, 208,
           276, 244, 186, 266, 296, 230, 254, 216, 286, 248,
           270, 238, 312, 262, 226, 280, 298, 256, 240, 290,
           300, 262, 336, 288, 310, 275, 330,
           96, 70, 118, 86, 54, 104, 130, 78, 112, 90,
           36, 100, 122, 64, 94, 144, 80, 108, 58, 88,
           116, 6, 96, 74, 134, 102, 46, 86, 120, 68,
           98, 156, 82, 110, -4, 92, 128, 72, 104, 60,
           118, 88,
           120, 88, 144, 104, 66, 130, 96, 178, 112, 80,
           138, 100, 58, 126, 150, 92, 116, 74, 140, 106,
           190, 84, 130, 110, 36, 122, 98, 158, 118, 72,
           142, 102, 128, 168, 90, 114, 136, 82, 152, 108,
           124, 60, 144, 118, 180, 96, 132, 112, 164, 120,
           180, 150, 210, 130, 170, 196, 112, 160, 224, 184,
           142, 200, 172, 236, 120, 188, 164, 210, 80, 196,
           176, 238, 154, 206, 182, 136, 220, 194, 248, 168,
           204, 180, 232, 150, 216, 190, 264, 200, 172, 240,
           212, 186, 254, 226, 160, 244, 210, 270, 196, 250,
           268, 320, 244, 300, 350, 282, 326, 206, 310, 360,
           274, 336, 298, 256, 370, 318, 292, 346, 230, 326,
           384, 304, 340, 276, 360, 316, 290, 372, 334, 310,
           266, 352, 320, 386, 296, 340, 362,
           216, 250, 196, 232, 170, 244, 208, 226, 186, 252,
           210, 235]

# Axis ticks
right_tickvals = [-25, 0, 25, 50, 75, 100, 125, 150, 175, 200, 225, 250, 275,
                  300, 325, 350, 375, 400, 425, 450, 475, 500]
right_ticktext = ['<span style="color:#ff0000">(25)</span>'] + [str(v) for v in right_tickvals[1:]]

# ---------------- STYLE ----------------
BLUE = '#0000d0'
RED = '#ff0000'
GREEN = '#1ed21e'
FONT = 'Liberation Sans, Arial, sans-serif'

cond_marker = dict(symbol='triangle-up-open', size=7, color=BLUE, line=dict(width=1.3, color=BLUE))
frac_marker = dict(symbol='square-open', size=5, color=GREEN, line=dict(width=1.1, color=GREEN))

fig = go.Figure()

for ct, cv in ((cond_t, cond_v), (cond2_t, cond2_v), (cond3_t, cond3_v)):
    fig.add_trace(go.Scatter(x=ct, y=cv, mode='markers', showlegend=False,
                             hoverinfo='skip', marker=cond_marker))

fig.add_trace(go.Scatter(
    x=mud_t, y=mud_p, mode='lines', showlegend=False, hoverinfo='skip', connectgaps=False,
    line=dict(color=RED, width=6)))

fig.add_trace(go.Scatter(
    x=mud_out_t, y=mud_out_p, mode='markers', showlegend=False, hoverinfo='skip',
    marker=dict(symbol='square-open', size=5, color=RED, line=dict(width=1.2, color=RED))))

for ft, fw in ((frac_t, frac_w), (frac2_t, frac2_w)):
    fig.add_trace(go.Scatter(x=ft, y=fw, mode='markers', yaxis='y2', showlegend=False,
                             hoverinfo='skip', marker=frac_marker))

# Legend entries
fig.add_trace(go.Scatter(x=[None], y=[None], mode='markers', name='B04 Conductivity',
                         legendgroup='a',
                         marker=dict(symbol='triangle-up-open', size=6, color=BLUE,
                                     line=dict(width=1.2, color=BLUE))))
fig.add_trace(go.Scatter(x=[None], y=[None], mode='markers', name='B04 Mud Pressure',
                         legendgroup='b',
                         marker=dict(symbol='square-open', size=5, color=RED,
                                     line=dict(width=1.2, color=RED))))
fig.add_trace(go.Scatter(x=[None], y=[None], mode='markers', name='B04 Fracture Width',
                         legendgroup='c',
                         marker=dict(symbol='square-open', size=5, color=GREEN,
                                     line=dict(width=1.2, color=GREEN))))

W, H = 1404, 765
L, R, T, B = 155, 127, 20, 95
pw, ph = W - L - R, H - T - B

def px_x(px):
    return (px - L) / pw

def px_y(py):
    return 1 - (py - T) / ph

fig.update_layout(
    width=W, height=H,
    margin=dict(l=L, r=R, t=T, b=B),
    paper_bgcolor='white', plot_bgcolor='white',
    font=dict(family=FONT, color='black'),
    xaxis=dict(range=[0, 0.5], dtick=0.05, tick0=0, tickformat='.2f',
               showgrid=False, zeroline=False,
               showline=True, linecolor='black', linewidth=1,
               ticks='outside', ticklen=7, tickcolor='black',
               minor=dict(dtick=0.01, ticks='outside', ticklen=7, tickcolor='black', showgrid=False),
               tickfont=dict(size=24, family=FONT, color='black', weight='bold')),
    yaxis=dict(range=[0, 1300], dtick=100, tick0=0,
               showgrid=True, gridcolor='#111111', gridwidth=1, zeroline=False,
               showline=True, linecolor='black', linewidth=1,
               ticks='outside', ticklen=10, tickcolor='black',
               tickfont=dict(size=24, family=FONT, color='black', weight='bold')),
    yaxis2=dict(range=[-25, 500], overlaying='y', side='right', anchor='x',
                tickvals=right_tickvals, ticktext=right_ticktext,
                showgrid=False, zeroline=False,
                showline=True, linecolor='black', linewidth=1,
                ticks='outside', ticklen=8, tickcolor='black',
                tickfont=dict(size=24, family=FONT, color='black', weight='bold')),
    yaxis3=dict(range=[-25, 500], overlaying='y', side='right', anchor='x',
                tickvals=right_tickvals, showticklabels=False,
                showgrid=False, zeroline=False, showline=False,
                ticks='inside', ticklen=8, tickcolor='black'),
    legend=dict(x=px_x(240), y=px_y(96), xanchor='left', yanchor='top',
                bgcolor='rgba(0,0,0,0)', borderwidth=0,
                font=dict(size=18, family=FONT, color='black', weight='bold'),
                tracegroupgap=27, itemsizing='trace'),
    shapes=[dict(type='rect', xref='paper', yref='paper',
                 x0=px_x(195), x1=px_x(500), y0=px_y(245), y1=px_y(95),
                 fillcolor='white', line=dict(width=0), layer='above')],
    annotations=[
        dict(text='Mud Pressure (psig)', xref='paper', yref='paper',
             x=px_x(22), y=px_y(330), textangle=-90, showarrow=False,
             xanchor='center', yanchor='middle',
             font=dict(size=24, family=FONT, color='black', weight='bold')),
        dict(text='Conductivity (mL x 100)', xref='paper', yref='paper',
             x=px_x(48), y=px_y(330), textangle=-90, showarrow=False,
             xanchor='center', yanchor='middle',
             font=dict(size=24, family=FONT, color='black', weight='bold')),
        dict(text='\u0394 Fracture Width (\u00b5m)', xref='paper', yref='paper',
             x=px_x(1372), y=px_y(350), textangle=90, showarrow=False,
             xanchor='center', yanchor='middle',
             font=dict(size=24, family=FONT, color='black', weight='bold')),
        dict(text='Time (hr)', xref='paper', yref='paper',
             x=px_x(700), y=px_y(746), showarrow=False,
             xanchor='center', yanchor='middle',
             font=dict(size=24, family=FONT, color='black', weight='bold')),
    ],
)

# a dummy trace for the inside tick marks of the right axis
fig.add_trace(go.Scatter(x=[None], y=[None], yaxis='y3', showlegend=False, hoverinfo='skip'))

fig.write_html('out.html')
